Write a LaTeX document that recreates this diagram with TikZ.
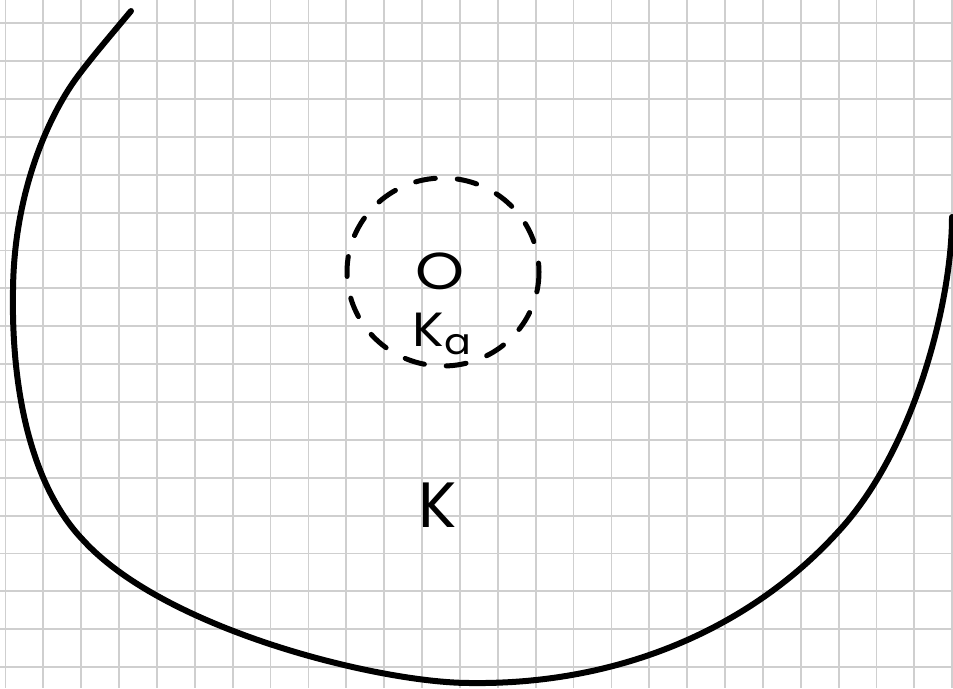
\documentclass[tikz,border=0pt]{standalone}
\usepackage{fontspec}
\setmainfont{Poppins}
\begin{document}
\begin{tikzpicture}[x=1pt,y=-1pt,
  gridline/.style={draw=black!19,line width=1.8pt},
  stroke/.style={draw=black,line width=6pt,line cap=round,line join=round},
  dashring/.style={draw=black,line width=5pt,line cap=round,dash pattern=on 20pt off 22pt},
  letter/.style={inner sep=0pt,text=black}]
\useasboundingbox (0,0) rectangle (953,688);
\fill[white] (0,0) rectangle (953,688);
% grid
\foreach \i in {0,...,25}{
  \draw[gridline] ({5.5+37.87*\i},0) -- ({5.5+37.87*\i},688);
}
\foreach \j in {0,...,17}{
  \draw[gridline] (0,{23.3+37.87*\j}) -- (953,{23.3+37.87*\j});
}
% big curve K
\coordinate (c0) at (131,11);
\coordinate (cb) at (75,80);
\coordinate (c1) at (13,290);
\coordinate (c2) at (83,540);
\coordinate (c3) at (470,683);
\coordinate (c4) at (837,533);
\coordinate (c5) at (952,217);
\draw[stroke] (c0) .. controls (105,42) and (88,62) .. (cb)
  .. controls (50,115) and (14,190) .. (c1)
  .. controls (11,400) and (35,490) .. (c2)
  .. controls (165,630) and (380,683) .. (c3)
  .. controls (620,685) and (750,628) .. (c4)
  .. controls (915,450) and (952,300) .. (c5);
% dashed neighbourhood
\draw[dashring] (443,272) ellipse [x radius=96, y radius=94];
% labels
\node[letter,xscale=1.2] (O) at (440,271) {\fontsize{52}{52}\selectfont O};
\node[letter,anchor=base west,xscale=1.1] (Ka) at (412,346) {\fontsize{48}{48}\selectfont K\kern1pt{\fontsize{36}{36}\selectfont\raisebox{-8pt}{a}}};
\node[letter] (K) at (438,505) {\fontsize{64}{64}\selectfont K};
\end{tikzpicture}
\end{document}
